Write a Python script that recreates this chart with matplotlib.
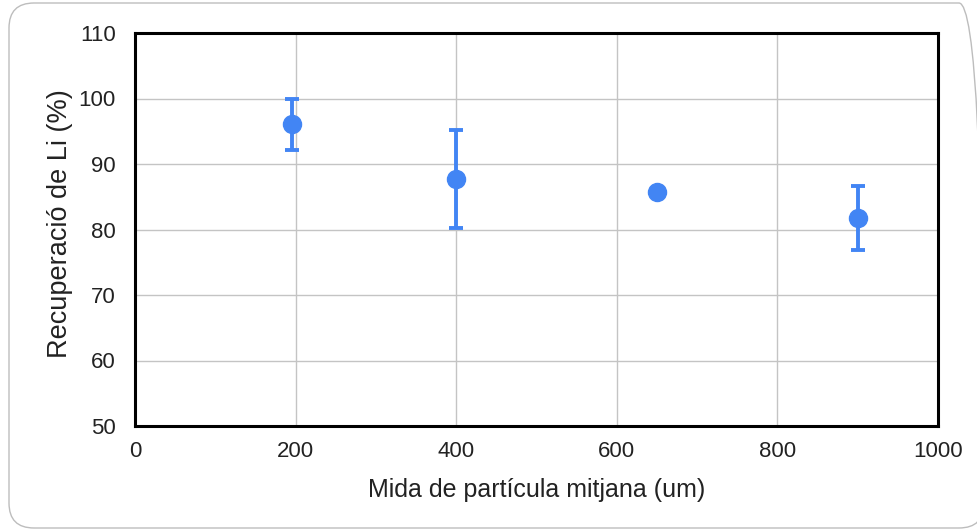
import matplotlib
matplotlib.use("Agg")
import matplotlib.pyplot as plt
from matplotlib.patches import FancyBboxPatch

plt.rcParams['font.family'] = ['Liberation Sans', 'DejaVu Sans']

# Data
particle_size = [195, 400, 650, 900]
recovery = [96.1, 87.7, 85.7, 81.7]
err_low = [3.9, 7.4, 0.0, 4.8]
err_high = [3.9, 7.5, 0.0, 4.9]
x_ticks = [0, 200, 400, 600, 800, 1000]
y_ticks = [50, 60, 70, 80, 90, 100, 110]
xlabel = "Mida de partícula mitjana (um)"
ylabel = "Recuperació de Li (%)"

blue = "#4285F4"

W, H = 978, 531
fig = plt.figure(figsize=(W / 100, H / 100), dpi=100)
fig.patch.set_facecolor("white")

# rounded outer frame
r = 25 / W
frame = FancyBboxPatch((9 / W, 3 / H), 975 / W, 525 / H,
                       boxstyle=f"round,pad=0,rounding_size={r}",
                       transform=fig.transFigure, facecolor="none",
                       edgecolor="#bdbdbd", linewidth=1.0,
                       mutation_aspect=W / H, clip_on=False)
fig.patches.append(frame)

ax = fig.add_axes([135 / W, 1 - 426 / H, (938 - 135) / W, (426 - 33) / H])
ax.errorbar(particle_size, recovery, yerr=[err_low, err_high], fmt="o",
            color=blue, ecolor=blue, markersize=13, elinewidth=2.8,
            capsize=5, capthick=2.8, zorder=3)

ax.set_xlim(0, 1000)
ax.set_ylim(50, 110)
ax.set_xticks(x_ticks)
ax.set_yticks(y_ticks)
ax.grid(True, color="#c4c4c4", linewidth=1.0)
ax.set_axisbelow(True)
for s in ax.spines.values():
    s.set_linewidth(2.2)
    s.set_color("black")
ax.tick_params(length=0, labelsize=16, colors="#222222")
ax.tick_params(axis="y", pad=14)
ax.tick_params(axis="x", pad=11)
ax.set_xlabel(xlabel, fontsize=18, labelpad=11, color="#222222")
ax.set_ylabel(ylabel, fontsize=19.5, color="#222222")
ax.yaxis.set_label_coords(-0.077, 0.515)

fig.savefig("out.png", dpi=100)
